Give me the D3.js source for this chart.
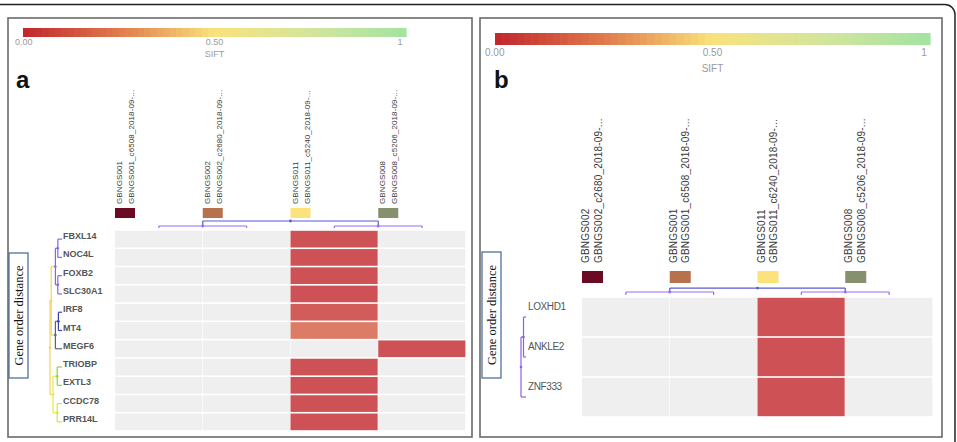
<!DOCTYPE html>
<html><head><meta charset="utf-8">
<script src="https://cdn.jsdelivr.net/npm/d3@7"></script>
<style>body{margin:0;background:#fff}svg{display:block}</style>
</head><body>
<script>
// ---------- DATA ----------
const sift_ticks = [0, 0.5, 1];
const sift_tick_labels = ["0.00", "0.50", "1"];
const sift_stops = [0, 0.25, 0.5, 0.75, 1];
const sift_colors = ["#c2252b", "#e07a4c", "#f9e27b", "#d3e59c", "#a3e3a1"];
const sample_colors = ["#6b0a23", "#b8714d", "#fbe27a", "#868f6e"];

// Panel a
const colsA = ["GBNGS001", "GBNGS002", "GBNGS011", "GBNGS008"];
const colSubA = ["GBNGS001_c6508_2018-09-...", "GBNGS002_c2680_2018-09-...", "GBNGS011_c5240_2018-09-...", "GBNGS008_c5206_2018-09-..."];
const rowsA = ["FBXL14", "NOC4L", "FOXB2", "SLC30A1", "IRF8", "MT4", "MEGF6", "TRIOBP", "EXTL3", "CCDC78", "PRR14L"];
const valuesA = [
  [null, null, 0.0, null],
  [null, null, 0.0, null],
  [null, null, 0.0, null],
  [null, null, 0.0, null],
  [null, null, 0.04, null],
  [null, null, 0.16, null],
  [null, null, null, 0.0],
  [null, null, 0.0, null],
  [null, null, 0.0, null],
  [null, null, 0.0, null],
  [null, null, 0.0, null]
];
const rowTreeA = {h: 4, c: "#f3d35a", ch: [
  {h: 3.6, c: "#f3d35a", ch: [
    {h: 2.2, c: "#8b62f0", ch: [
      {h: 1.4, c: "#8b62f0", ch: ["FBXL14", "NOC4L"]},
      {h: 1.4, c: "#8b62f0", ch: ["FOXB2", "SLC30A1"]}]},
    {h: 2.2, c: "#56628a", ch: [
      {h: 1.2, c: "#3f3fb5", ch: ["IRF8", "MT4"]}, "MEGF6"]}]},
  {h: 3, c: "#e4e84a", ch: [
    {h: 1.6, c: "#93d43f", ch: ["TRIOBP", "EXTL3"]},
    {h: 1.6, c: "#cfe83f", ch: ["CCDC78", "PRR14L"]}]}
]};
const colTreeA = {h: 3.5, c: "#5b5bd6", ch: [
  {h: 1, c: "#9a6af0", ch: ["GBNGS001", "GBNGS002"]},
  {h: 1, c: "#9a6af0", ch: ["GBNGS011", "GBNGS008"]}]};

// Panel b
const colsB = ["GBNGS002", "GBNGS001", "GBNGS011", "GBNGS008"];
const colSubB = ["GBNGS002_c2680_2018-09-...", "GBNGS001_c6508_2018-09-...", "GBNGS011_c6240_2018-09-...", "GBNGS008_c5206_2018-09-..."];
const rowsB = ["LOXHD1", "ANKLE2", "ZNF333"];
const valuesB = [
  [null, null, 0.0, null],
  [null, null, 0.0, null],
  [null, null, 0.0, null]
];
const rowTreeB = {h: 2, c: "#8b62f0", ch: [
  {h: 1, c: "#8b62f0", ch: ["LOXHD1", "ANKLE2"]}, "ZNF333"]};
const colTreeB = {h: 2.3, c: "#5b5bd6", ch: [
  {h: 1, c: "#9a6af0", ch: ["GBNGS002", "GBNGS001"]},
  {h: 1, c: "#9a6af0", ch: ["GBNGS011", "GBNGS008"]}]};

// ---------- DRAW ----------
const W = 957, H = 442;
const svg = d3.select("body").append("svg").attr("width", W).attr("height", H)
  .style("font-family", "Liberation Sans, Arial, sans-serif");

const siftColor = d3.scaleLinear().domain(sift_stops).range(sift_colors).interpolate(d3.interpolateRgb);

svg.append("path").attr("d", `M0,4.5 H945 A10,10 0 0 1 955,14.5 V442`)
  .attr("fill", "none").attr("stroke", "#222").attr("stroke-width", 1.5);

function toHier(tree) {
  return d3.hierarchy(tree, d => d.ch ? d.ch.map(c => typeof c === "string" ? {name: c, h: 0} : c) : null);
}

function panel(o) {
  const g = svg.append("g");
  g.append("rect").attr("x", o.box[0]).attr("y", o.box[1]).attr("width", o.box[2] - o.box[0]).attr("height", o.box[3] - o.box[1])
    .attr("fill", "none").attr("stroke", "#6a6a6a").attr("stroke-width", 1.6);

  const bx = d3.scaleLinear().domain([0, 1]).range([o.bar[0], o.bar[1]]);
  const nSeg = 60;
  const segs = d3.range(nSeg).map(i => i / nSeg);
  g.selectAll(".seg").data(segs).join("rect")
    .attr("x", d => bx(d)).attr("y", o.bar[2]).attr("width", bx(1 / nSeg) - bx(0) + 0.6).attr("height", o.bar[3] - o.bar[2])
    .attr("fill", d => siftColor(d + 0.5 / nSeg));
  g.selectAll(".tk").data(sift_ticks).join("text")
    .attr("x", (d, i) => i === 0 ? bx(d) - o.tickShift : (i === sift_ticks.length - 1 ? bx(d) - 6 : bx(d)))
    .attr("y", o.tickY).attr("text-anchor", (d, i) => i === 0 ? "start" : "middle")
    .attr("font-size", o.tickFs).attr("fill", "#9a9a9a").text((d, i) => sift_tick_labels[i]);
  g.append("text").attr("x", bx(0.5)).attr("y", o.siftY).attr("text-anchor", "middle")
    .attr("font-size", o.tickFs).attr("fill", "#9a9a9a").text("SIFT");

  g.append("text").attr("x", o.letter[0]).attr("y", o.letter[1]).attr("font-size", 24).attr("font-weight", "bold")
    .attr("fill", "#111").text(o.letterText);

  const x = d3.scaleBand().domain(o.cols).range([o.heat[0], o.heat[1]]);
  const y = d3.scaleBand().domain(o.rows).range([o.heat[2], o.heat[3]]);
  const cells = [];
  o.rows.forEach((r, i) => o.cols.forEach((c, j) => cells.push({r, c, v: o.values[i][j]})));
  g.selectAll(".cell").data(cells).join("rect")
    .attr("x", d => x(d.c)).attr("y", d => y(d.r) + 0.8)
    .attr("width", x.bandwidth() - 0.6).attr("height", y.bandwidth() - 1.6)
    .attr("fill", d => d.v == null ? "#efefef" : siftColor(d.v))
    .attr("fill-opacity", d => d.v == null ? 1 : 0.8);

  g.selectAll(".sq").data(o.cols).join("rect")
    .attr("x", d => x(d)).attr("y", o.sq[0]).attr("width", o.sq[2]).attr("height", o.sq[1])
    .attr("fill", (d, i) => sample_colors[i]);

  o.cols.forEach((c, i) => {
    const cx = x(c);
    [c, o.colSub[i]].forEach((t, k) => {
      g.append("text")
        .attr("transform", `translate(${cx + o.lab[k]},${o.labBottom}) rotate(-90)`)
        .attr("font-size", o.labFs).attr("fill", "#3a3a3a")
        .attr("letter-spacing", o.labLs)
        .text(t);
    });
  });

  const ch = toHier(o.colTree);
  ch.eachAfter(n => {
    n.px = n.children ? d3.mean(n.children, k => k.px) : x(n.data.name) + x.bandwidth() / 2;
    n.py = o.colTip - n.data.h * o.colK;
  });
  ch.each(n => {
    if (!n.children) return;
    const xs = n.children.map(k => k.px);
    g.append("line").attr("x1", d3.min(xs)).attr("x2", d3.max(xs)).attr("y1", n.py).attr("y2", n.py)
      .attr("stroke", n.data.c).attr("stroke-width", 1.2);
    n.children.forEach(k => {
      g.append("line").attr("x1", k.px).attr("x2", k.px).attr("y1", n.py).attr("y2", k.py)
        .attr("stroke", n.data.c).attr("stroke-width", 1.2);
    });
    g.append("circle").attr("cx", n.px).attr("cy", n.py).attr("r", 1.4).attr("fill", n.data.c);
  });

  g.selectAll(".rl").data(o.rows).join("text")
    .attr("x", o.rowLabX).attr("y", d => y(d) + o.rowLabDy)
    .attr("dominant-baseline", "middle")
    .attr("font-size", o.rowFs).attr("font-weight", o.rowFw).attr("fill", o.rowFill)
    .attr("letter-spacing", o.rowLs)
    .text(d => d);

  const rh = toHier(o.rowTree);
  rh.eachAfter(n => {
    n.py = n.children ? d3.mean(n.children, k => k.py) : y(n.data.name) + y.bandwidth() / 2;
    n.px = o.rowTip - n.data.h * o.rowK;
  });
  rh.each(n => {
    if (!n.children) return;
    const ys = n.children.map(k => k.py);
    g.append("line").attr("x1", n.px).attr("x2", n.px).attr("y1", d3.min(ys)).attr("y2", d3.max(ys))
      .attr("stroke", n.data.c).attr("stroke-width", 1.2);
    n.children.forEach(k => {
      g.append("line").attr("x1", n.px).attr("x2", k.px).attr("y1", k.py).attr("y2", k.py)
        .attr("stroke", n.data.c).attr("stroke-width", 1.2);
    });
    g.append("circle").attr("cx", n.px).attr("cy", n.py).attr("r", 1.3).attr("fill", n.data.c);
  });

  const gb = o.geneBox;
  g.append("rect").attr("x", gb[0]).attr("y", gb[1]).attr("width", gb[2] - gb[0]).attr("height", gb[3] - gb[1])
    .attr("fill", "#fff").attr("stroke", "#50709c").attr("stroke-width", 1.3);
  g.append("text")
    .attr("transform", `translate(${(gb[0] + gb[2]) / 2 + 4},${(gb[1] + gb[3]) / 2}) rotate(-90)`)
    .attr("text-anchor", "middle").attr("font-family", "Liberation Serif, Times New Roman, serif")
    .attr("font-size", 12.5).attr("fill", "#111").text("Gene order distance");
}

panel({
  box: [8, 18, 472, 437],
  bar: [23, 406, 28, 37], tickY: 45, siftY: 57, tickFs: 9, tickShift: 8,
  letter: [16, 88], letterText: "a",
  cols: colsA, colSub: colSubA, rows: rowsA, values: valuesA,
  heat: [115, 466, 230, 431],
  sq: [208, 10, 20],
  lab: [7, 19], labBottom: 204, labFs: 8, labLs: 0.1,
  colTree: colTreeA, colTip: 228, colK: 2,
  rowLabX: 63, rowLabDy: 6.8, rowFs: 9, rowFw: "bold", rowFill: "#555", rowLs: 0,
  rowTree: rowTreeA, rowTip: 62, rowK: 3,
  geneBox: [9, 253, 28, 378]
});
panel({
  box: [480, 18, 942, 437],
  bar: [495, 930, 33, 45], tickY: 56, siftY: 72, tickFs: 10, tickShift: 10,
  letter: [494, 88], letterText: "b",
  cols: colsB, colSub: colSubB, rows: rowsB, values: valuesB,
  heat: [582, 933, 297, 417],
  sq: [271, 12, 21],
  lab: [7, 19.5], labBottom: 263, labFs: 10, labLs: 0.2,
  colTree: colTreeB, colTip: 295, colK: 3,
  rowLabX: 528, rowLabDy: 10, rowFs: 10, rowFw: "normal", rowFill: "#555", rowLs: -0.4,
  rowTree: rowTreeB, rowTip: 526, rowK: 2.5,
  geneBox: [482, 252, 501, 378]
});
</script>
</body></html>
